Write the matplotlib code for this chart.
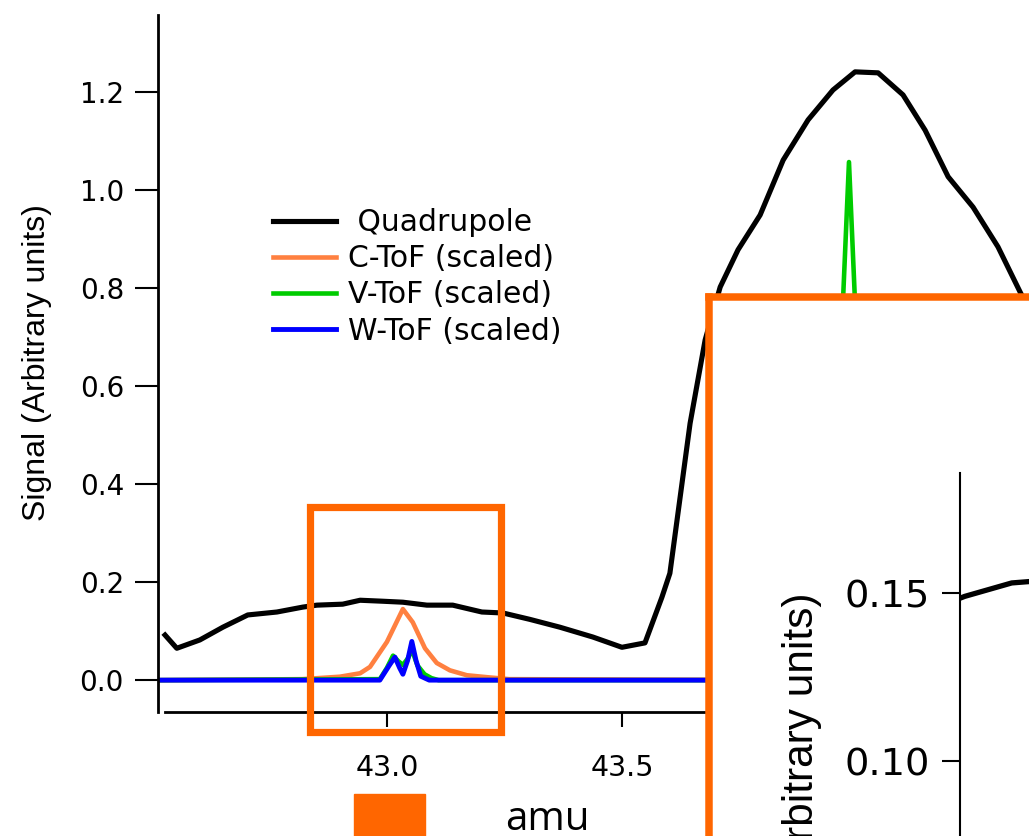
import matplotlib
matplotlib.use("Agg")
import matplotlib.pyplot as plt
from matplotlib.patches import Rectangle

# Quadrupole scan (amu, signal)
quad_mz = [42.528, 42.553, 42.602, 42.651, 42.704, 42.766, 42.821, 42.851, 42.906,
           42.943, 42.991, 43.034, 43.085, 43.140, 43.202, 43.247, 43.304, 43.368,
           43.438, 43.500, 43.549, 43.585, 43.602, 43.645, 43.677, 43.709, 43.747,
           43.794, 43.843, 43.896, 43.949, 43.996, 44.045, 44.098, 44.145, 44.194,
           44.247, 44.300, 44.347, 44.400]
quad_signal = [0.092, 0.065, 0.082, 0.108, 0.133, 0.139, 0.149, 0.153, 0.155,
               0.163, 0.161, 0.159, 0.153, 0.153, 0.139, 0.137, 0.124, 0.108,
               0.088, 0.067, 0.076, 0.169, 0.218, 0.524, 0.694, 0.802, 0.878,
               0.949, 1.061, 1.143, 1.204, 1.241, 1.239, 1.194, 1.122, 1.027,
               0.965, 0.884, 0.792, 0.690]

# C-ToF (scaled)
ctof_mz = [42.52, 42.82, 42.90, 42.943, 42.964, 43.000, 43.034, 43.055, 43.081,
           43.106, 43.134, 43.170, 43.213, 43.26, 43.90, 43.95, 43.985, 44.02,
           44.07, 44.40]
ctof_signal = [0.0, 0.002, 0.007, 0.014, 0.027, 0.078, 0.145, 0.118, 0.065,
               0.035, 0.020, 0.010, 0.006, 0.002, 0.0, 0.15, 0.55, 0.15,
               0.0, 0.0]

# V-ToF (scaled)
vtof_mz = [42.52, 42.985, 43.000, 43.013, 43.025, 43.034, 43.045, 43.053, 43.065,
           43.080, 43.095, 43.110, 43.930, 43.971, 43.983, 43.995, 44.035, 44.40]
vtof_signal = [0.0, 0.002, 0.025, 0.050, 0.038, 0.031, 0.045, 0.062, 0.030,
               0.012, 0.004, 0.0, 0.0, 0.79, 1.057, 0.79, 0.0, 0.0]

# W-ToF (scaled)
wtof_mz = [42.52, 42.985, 43.005, 43.017, 43.027, 43.034, 43.044, 43.053, 43.062,
           43.072, 43.090, 43.960, 43.983, 44.005, 44.40]
wtof_signal = [0.0, 0.0, 0.030, 0.047, 0.025, 0.012, 0.040, 0.079, 0.040,
               0.008, 0.0, 0.0, 0.45, 0.0, 0.0]

main_yticks = [0.0, 0.2, 0.4, 0.6, 0.8, 1.0, 1.2]
main_xticks = [43.0, 43.5]
inset_yticks = [0.10, 0.15]

# region marked by the small orange box
zoom_mz = (42.836, 43.243)
zoom_signal = (-0.106, 0.353)

ORANGE = "#FF6600"
W, H = 1029, 836


def fx(px):
    return px / W


def fy(py):
    return 1 - py / H


fig = plt.figure(figsize=(W / 100, H / 100), dpi=100)

# main plot
ax = fig.add_axes([fx(158), fy(712), 1 - fx(158), fy(15) - fy(712)])
ax.plot(quad_mz, quad_signal, color="black", lw=3.7, label=" Quadrupole")
ax.plot(ctof_mz, ctof_signal, color="#FF8040", lw=3.3, label="C-ToF (scaled)")
ax.plot(vtof_mz, vtof_signal, color="#00CC00", lw=3.3, label="V-ToF (scaled)")
ax.plot(wtof_mz, wtof_signal, color="#0000FF", lw=3.5, label="W-ToF (scaled)")

ax.set_xlim(42.513, 44.366)
ax.set_ylim(-0.065, 1.357)
ax.spines["top"].set_visible(False)
ax.spines["right"].set_visible(False)
ax.spines["left"].set_linewidth(2)
ax.spines["bottom"].set_linewidth(2)
ax.spines["bottom"].set_bounds(42.528, 44.366)
ax.set_yticks(main_yticks)
ax.set_yticklabels([f"{v:.1f}" for v in main_yticks])
ax.set_xticks(main_xticks)
ax.set_xticklabels([f"{v:.1f}" for v in main_xticks])
ax.tick_params(axis="y", length=16.5, width=1.5, pad=8, labelsize=20)
ax.tick_params(axis="x", length=11, width=1.5, pad=19, labelsize=20.5)

fig.text(fx(37), fy(363), "Signal (Arbitrary units)", rotation=90,
         ha="center", va="center", fontsize=23, family="Liberation Sans")

ax.legend(loc="upper left", bbox_to_anchor=(fx(273), fy(208)),
          bbox_transform=fig.transFigure, frameon=False, fontsize=21.5,
          handlelength=2.1, handletextpad=0.4, labelspacing=0.24,
          borderpad=0, borderaxespad=0)

# orange box marking the zoomed region
ax.add_patch(Rectangle((zoom_mz[0], zoom_signal[0]), zoom_mz[1] - zoom_mz[0],
                       zoom_signal[1] - zoom_signal[0], fill=False,
                       ec=ORANGE, lw=5.2, clip_on=False, zorder=5))

# big inset frame
frame = fig.add_axes([fx(709), -0.4, 0.6, fy(297) + 0.4])
frame.set_facecolor("white")
frame.set_xticks([])
frame.set_yticks([])
for s in frame.spines.values():
    s.set_color(ORANGE)
    s.set_linewidth(5.4)

# inset axes
inax = fig.add_axes([fx(960), -0.2, 0.2, fy(473) + 0.2])
inax.patch.set_alpha(0)
inax.plot(quad_mz, quad_signal, color="black", lw=3.8)
inax.set_xlim(42.818, 42.9493)
inax.set_ylim(0.028, 0.1857)
for side in ["top", "right", "bottom"]:
    inax.spines[side].set_visible(False)
inax.spines["left"].set_linewidth(1.5)
inax.set_xticks([])
inax.set_yticks(inset_yticks)
inax.set_yticklabels([f"{v:.2f}" for v in inset_yticks])
inax.tick_params(axis="y", length=13, width=1.5, pad=8.6, labelsize=27.6)

fig.text(fx(802), fy(592), "Signal (Arbitrary units)", rotation=90,
         ha="center", va="top", fontsize=30.5, family="Liberation Sans")

# orange square and amu label at the bottom
fig.add_artist(Rectangle((fx(354), fy(836) - 0.05), fx(425) - fx(354),
                         fy(794) - fy(836) + 0.05, transform=fig.transFigure,
                         color=ORANGE))
fig.text(fx(505), fy(830), "amu", family="Open Sans", fontsize=29,
         ha="left", va="baseline")

fig.savefig("out.png", dpi=100)
